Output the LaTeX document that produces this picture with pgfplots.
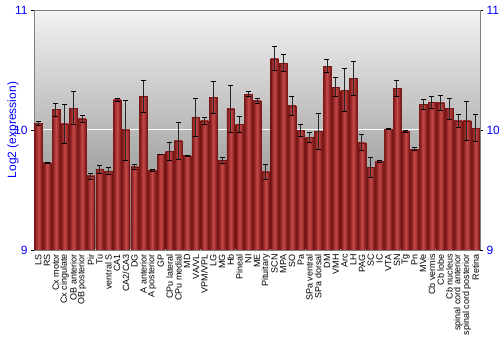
\documentclass[border=0pt]{standalone}
\usepackage{pgfplots}
\pgfplotsset{compat=1.18}
\usepackage{pgfplotstable}
\usepackage{fontspec}
\setmainfont{Liberation Sans}
\definecolor{bgtop}{HTML}{F2F2F2}
\definecolor{bgbot}{HTML}{7E7E7E}
\definecolor{bardark}{HTML}{7A1818}
\definecolor{barlight}{HTML}{C64848}
\definecolor{axgray}{HTML}{808080}
\pgfplotstableread{
x y e
0 10.056 0.014
1 9.725 0.004
2 10.17 0.055
3 10.05 0.16
4 10.183 0.135
5 10.094 0.028
6 9.617 0.025
7 9.672 0.032
8 9.658 0.028
9 10.25 0.014
10 10.0 0.25
11 9.692 0.02
12 10.28 0.13
13 9.664 0.008
14 9.797 0.003
15 9.82 0.074
16 9.91 0.153
17 9.786 0.003
18 10.103 0.157
19 10.075 0.032
20 10.272 0.135
21 9.747 0.024
22 10.175 0.196
23 10.047 0.064
24 10.297 0.021
25 10.244 0.019
26 9.65 0.06
27 10.594 0.099
28 10.558 0.068
29 10.2 0.082
30 9.997 0.047
31 9.939 0.043
32 9.989 0.153
33 10.533 0.051
34 10.356 0.08
35 10.331 0.178
36 10.428 0.144
37 9.894 0.067
38 9.689 0.083
39 9.739 0.011
40 10.006 0.003
41 10.347 0.064
42 9.989 0.01
43 9.839 0.0125
44 10.214 0.04
45 10.228 0.05
46 10.225 0.061
47 10.178 0.089
48 10.075 0.057
49 10.075 0.16
50 10.014 0.1125
}\data
\begin{document}
\begin{tikzpicture}
\useasboundingbox (0,0) rectangle (500pt,350pt);
\begin{axis}[
  at={(34pt,100pt)}, anchor=south west,
  scale only axis, width=446pt, height=240pt,
  xmin=-0.5, xmax=50.5, ymin=0, ymax=2,
  ytick={0,1,2}, yticklabels={9,10,11},
  xtick={0,...,50},
  xticklabels={LS,RS,Cx motor,Cx cingulate,OB anterior,OB posterior,Pir,Tu,ventral S,CA1,CA2/CA3,DG,A anterior,A posterior,GP,CPu lateral,CPu medial,MD,VA/VL,VPM/VPL,LG,MG,Hb,Pineal,NI,ME,Pituitary,SCN,MPA,SO,Pa,SPa ventral,SPa dorsal,DM,VMH,Arc,LH,PAG,SC,IC,VTA,SN,Tg,Pn,MVe,Cb vermis,Cb lobe,Cb nucleus,spinal cord anterior,spinal cord posterior,Retina},
  xticklabel style={rotate=90, anchor=east, font=\fontsize{9}{9}\selectfont, inner sep=1pt},
  xtick style={draw=none},
  yticklabel style={font=\fontsize{12}{12}\selectfont, text=blue},
  ytick style={black, line width=0.8pt},
  major tick length=3pt,
  tick align=outside,
  ytick pos=left,
  axis line style={axgray, line width=0.8pt},
  axis background/.style={shade, top color=bgtop, bottom color=bgbot},
  ymajorgrids, grid style={white, line width=1pt},
  ylabel={Log2 (expression)},
  ylabel style={at={(axis description cs:-0.047,0.5)}, anchor=center, font=\fontsize{12}{12}\selectfont, text=blue},
]
\pgfplotsinvokeforeach{0,...,50}{
\addplot[ybar, bar width=7.6pt, draw=bardark, line width=0.3pt,
  left color=bardark, right color=bardark, middle color=barlight,
  forget plot,
  restrict x to domain=#1:#1,
  error bars/.cd, y dir=both, y explicit,
  error bar style={black!85, line width=0.9pt},
  error mark options={rotate=90, mark size=2.5pt, black, line width=0.9pt}]
  table[x=x, y expr=\thisrow{y}-9, y error=e] {\data};
}
\end{axis}
\begin{axis}[
  at={(34pt,100pt)}, anchor=south west,
  scale only axis, width=446pt, height=240pt,
  xmin=-0.5, xmax=50.5, ymin=9, ymax=11,
  axis x line=none, axis y line*=right,
  ytick={9,10,11},
  yticklabel style={font=\fontsize{12}{12}\selectfont, text=blue},
  /pgf/number format/assume math mode=true,
  ytick style={black, line width=0.8pt},
  major tick length=3pt,
  tick align=outside,
  axis line style={axgray, line width=0.8pt},
]
\addplot[draw=none] coordinates {(0,9.5)};
\end{axis}
\end{tikzpicture}
\end{document}
